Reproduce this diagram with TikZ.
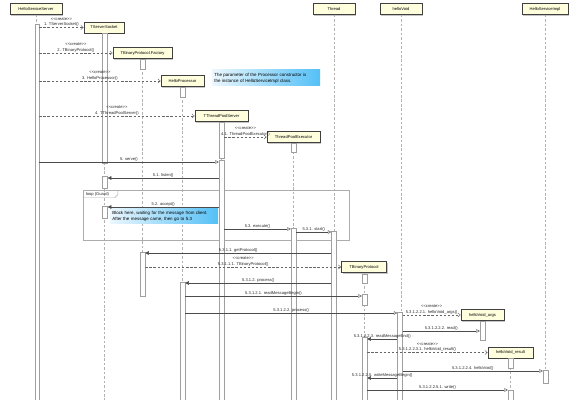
\documentclass[tikz,border=0pt]{standalone}
\usepackage{fontspec}
\setsansfont{Liberation Sans}
\usetikzlibrary{arrows.meta,positioning,fit,shadows}
\definecolor{objfill}{RGB}{255,255,222}
\definecolor{notel}  {RGB}{236,247,254}
\definecolor{noter}  {RGB}{ 84,192,246}
\newcommand{\msgfont}{\fontsize{3.5}{4.6}\selectfont\sffamily}
\newcommand{\notefont}{\fontsize{3.8}{5.2}\selectfont\sffamily}
\newcommand{\crtlbl}{<\kern0pt<create>\kern0pt>}
\tikzset{
  obj/.style  ={rectangle,draw=black!75,line width=0.7pt,fill=objfill,
                 minimum height=0.33cm,inner sep=0pt,font=\msgfont,
                 drop shadow={shadow xshift=0.9pt,shadow yshift=-0.9pt,opacity=0.45}},
  life/.style ={draw=gray!60,line width=0.5pt,dash pattern=on 2.2pt off 1.6pt},
  act/.style  ={rectangle,draw=gray!75,fill=white,line width=0.4pt,inner sep=0pt},
  frm/.style  ={draw=gray!65,line width=0.4pt},
  callm/.style={-{Triangle[open,length=3pt,width=3pt]},draw=black!70,line width=0.4pt},
  backm/.style={-{Triangle[length=3pt,width=3pt]},draw=black!70,line width=0.4pt},
  crtm/.style ={-{Straight Barb[length=2pt,width=3.5pt]},draw=black!60,
                 line width=0.4pt,dash pattern=on 2pt off 1.5pt},
  lbl/.style  ={font=\msgfont,inner sep=0.6pt,text=black!85,align=center},
  note/.style ={rectangle,left color=notel,right color=noter,minimum width=3.24cm,
                 text width=3.1cm,align=left,font=\notefont,inner sep=0pt},
}

\begin{document}
\begin{tikzpicture}[x=0.03cm,y=-0.03cm]
  \useasboundingbox (0,0) rectangle (582,400);
  % objects
  \node[obj,minimum width=1.56cm] (hss)  at (36,9)     {HelloServiceServer};
  \node[obj,minimum width=1.20cm] (tss)  at (104,27.5) {TServerSocket};
  \node[obj,minimum width=1.77cm] (tbpf) at (142.5,53) {TBinaryProtocol.Factory};
  \node[obj,minimum width=1.29cm] (hp)   at (182.5,81) {HelloProcessor};
  \node[obj,minimum width=1.59cm] (tps)  at (221.5,116){TThreadPoolServer};
  \node[obj,minimum width=1.59cm] (tpe)  at (293.5,137){ThreadPoolExecutor};
  \node[obj,minimum width=1.26cm] (thr)  at (334,9)    {Thread};
  \node[obj,minimum width=1.26cm] (hv)   at (401,9)    {helloVoid};
  \node[obj,minimum width=1.38cm] (hsi)  at (545,9)    {HelloServiceImpl};
  \node[obj,minimum width=1.35cm] (tbp)  at (364,267)  {TBinaryProtocol};
  \node[obj,minimum width=1.29cm] (hva)  at (482.5,315){helloVoid\_args};
  \node[obj,minimum width=1.35cm] (hvr)  at (510.5,352.5){helloVoid\_result};

  % lifelines
  \draw[life] (hss.south)  -- (hss.south  |- 0,400);
  \draw[life] (tss.south)  -- (tss.south  |- 0,400);
  \draw[life] (tbpf.south) -- (tbpf.south |- 0,296);
  \draw[life] (hp.south)   -- (hp.south   |- 0,400);
  \draw[life] (tps.south)  -- (tps.south  |- 0,400);
  \draw[life] (tpe.south)  -- (tpe.south  |- 0,400);
  \draw[life] (thr.south)  -- (thr.south  |- 0,231);
  \draw[life] (hv.south)   -- (hv.south   |- 0,312);
  \draw[life] (hsi.south)  -- (hsi.south  |- 0,383);
  \draw[life] (tbp.south)  -- (tbp.south  |- 0,400);
  \draw[life] (hva.south)  -- (hva.south  |- 0,340);
  \draw[life] (hvr.south)  -- (hvr.south  |- 0,400);

  % loop fragment
  \node[frm,inner sep=0pt,fit={(83,190) (349,240)}] (loop) {};
  \draw[frm] (loop.north west) ++(0,8) -- ++(32,0) -- ++(3,-3) -- ++(0,-5);
  \node[lbl,anchor=west] (guard) at (85,194) {loop (Guard)};

  % notes
  \node[note,minimum height=0.48cm] (n1) at (266,78)
       {The parameter of the Processor constructor is\\the instance of HelloServiceImpl class.};
  \node[note,minimum height=0.45cm] (n2) at (164,216)
       {Block here, waiting for the message from client.\\After the message came, then go to 5.3};

  % activations
  \node[act,fit={(35,24) (39,400)}]        (hssA)  {};
  \node[act,fit={(102.5,33) (107.5,163)}]  (tssA)  {};
  \node[act,fit={(102.5,176) (107.5,188)}] (tssB)  {};
  \node[act,fit={(102.5,206) (107.5,218)}] (tssC)  {};
  \node[act,fit={(140,59) (145,69)}]       (tbpfA) {};
  \node[act,fit={(140,252) (145,296)}]     (tbpfB) {};
  \node[act,fit={(180,87) (185,97)}]       (hpA)   {};
  \node[act,fit={(180,282) (185,400)}]     (hpB)   {};
  \node[act,fit={(219,122) (224,158)}]     (tpsA)  {};
  \node[act,fit={(219,160) (224,400)}]     (tpsB)  {};
  \node[act,fit={(291,143) (296,152)}]     (tpeA)  {};
  \node[act,fit={(291,228) (296,400)}]     (tpeB)  {};
  \node[act,fit={(331.5,231) (336.5,400)}] (thrA)  {};
  \node[act,fit={(397.5,312) (402.5,400)}] (hvA)   {};
  \node[act,fit={(362,274) (367,283)}]     (tbpA)  {};
  \node[act,fit={(362,294) (367,305)}]     (tbpB)  {};
  \node[act,fit={(362,337) (367,400)}]     (tbpC)  {};
  \node[act,fit={(480,321) (485,340)}]     (hvaA)  {};
  \node[act,fit={(508,358) (513,368)}]     (hvrA)  {};
  \node[act,fit={(508,390) (513,400)}]     (hvrB)  {};
  \node[act,fit={(543,370) (548,383)}]     (hsiA)  {};

  % messages
  \draw[crtm] (hssA.east |- tss.west) -- node[lbl,above]{\crtlbl\\1. TServerSocket()} (tss.west);
  \draw[crtm] (hssA.east |- tbpf.west) -- node[lbl,above]{\crtlbl\\2. TBinaryProtocol()} (tbpf.west);
  \draw[crtm] (hssA.east |- hp.west) -- node[lbl,above]{\crtlbl\\3. HelloProcessor()} (hp.west);
  \draw[crtm] (hssA.east |- tps.west) -- node[lbl,above]{\crtlbl\\4. TThreadPoolServer()} (tps.west);
  \draw[crtm] (tpsA.east |- tpe.west) -- node[lbl,above]{\crtlbl\\4.1. ThreadPoolExecutor()} (tpe.west);
  \draw[callm] (hssA.east |- 0,162) -- node[lbl,above]{5. serve()} (tpsB.west |- 0,162);
  \draw[backm] (tpsB.west |- 0,178) -- node[lbl,above]{5.1. listen()} (tssB.east |- 0,178);
  \draw[backm] (tpsB.west |- 0,207) -- node[lbl,above]{5.2. accept()} (tssC.east |- 0,207);
  \draw[callm] (tpsB.east |- 0,229) -- node[lbl,above]{5.3. execute()} (tpeB.west |- 0,229);
  \draw[callm] (tpeB.east |- 0,232) -- node[lbl,above]{5.3.1. start()} (thrA.west |- 0,232);
  \draw[backm] (thrA.west |- 0,253) -- node[lbl,above]{5.3.1.1. getProtocol()} (tbpfB.east |- 0,253);
  \draw[crtm] (tbpfB.east |- tbp.west) -- node[lbl,above]{\crtlbl\\5.3.1.1.1. TBinaryProtocol()} (tbp.west);
  \draw[backm] (thrA.west |- 0,283) -- node[lbl,above]{5.3.1.2. process()} (hpB.east |- 0,283);
  \draw[callm] (hpB.east |- 0,296) -- node[lbl,above]{5.3.1.2.1. readMessageBegin()} (tbpB.west |- 0,296);
  \draw[callm] (hpB.east |- 0,313) -- node[lbl,above]{5.3.1.2.2. process()} (hvA.west |- 0,313);
  \draw[crtm] (hvA.east |- hva.west) -- node[lbl,above]{\crtlbl\\5.3.1.2.2.1. helloVoid\_args()} (hva.west);
  \draw[callm] (hvA.east |- 0,331) -- node[lbl,above]{5.3.1.2.2.2. read()} (hvaA.west |- 0,331);
  \draw[backm] (hvA.west |- 0,339) -- node[lbl,above]{5.3.1.2.2.3. readMessageEnd()} (tbpC.east |- 0,339);
  \draw[crtm] (tbpC.east |- hvr.west) -- node[lbl,above]{\crtlbl\\5.3.1.2.2.3.1. helloVoid\_result()} (hvr.west);
  \draw[callm] (hvA.east |- 0,371) -- node[lbl,above]{5.3.1.2.2.4. helloVoid()} (hsiA.west |- 0,371);
  \draw[backm] (hvA.west |- 0,378) -- node[lbl,above]{5.3.1.2.2.5. writeMessageBegin()} (tbpC.east |- 0,378);
  \draw[callm] (tbpC.east |- 0,390) -- node[lbl,above]{5.3.1.2.2.5.1. write()} (hvrB.west |- 0,390);
\end{tikzpicture}
\end{document}
